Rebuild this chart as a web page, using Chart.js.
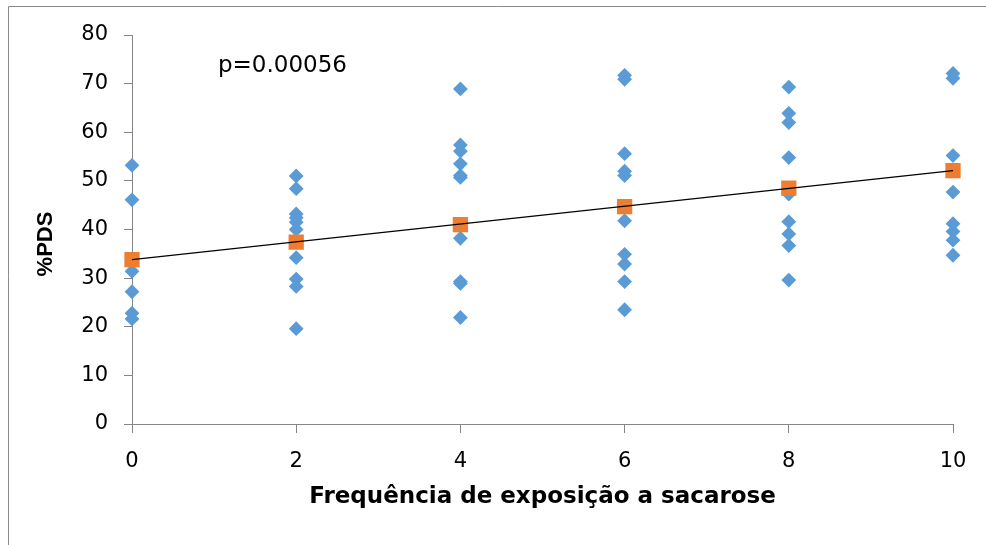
<!DOCTYPE html>
<html>
<head>
<meta charset="utf-8">
<script src="https://cdn.jsdelivr.net/npm/chart.js@4.4.1/dist/chart.umd.min.js"></script>
<style>
  html, body { margin: 0; padding: 0; background: #fff; }
  #wrap { width: 986px; height: 545px; position: relative; }
</style>
</head>
<body>
<div id="wrap"><canvas id="pdsChart"></canvas></div>
<script>
// exposure frequencies (x) and individual %PDS readings per group
const frequencies = [0, 2, 4, 6, 8, 10];
const pdsAt0 = [53.2, 46.1, 31.4, 27.2, 22.8, 21.6];
const pdsAt2 = [51.0, 48.4, 43.2, 42.4, 41.5, 40.0, 34.2, 29.8, 28.3, 19.6];
const pdsAt4 = [68.9, 57.4, 56.1, 53.5, 51.1, 50.7, 38.2, 29.3, 28.9, 21.9];
const pdsAt6 = [71.7, 70.9, 55.6, 52.0, 51.1, 41.8, 34.9, 32.9, 29.3, 23.5];
const pdsAt8 = [69.3, 63.9, 62.0, 54.8, 47.3, 41.6, 39.1, 36.7, 29.6];
const pdsAt10 = [72.1, 71.1, 55.2, 47.7, 41.2, 39.6, 37.8, 34.7];
const groupMeans = [33.8, 37.4, 41.0, 44.7, 48.5, 52.1];
const trendX = [0, 10];
const trendY = [33.8, 52.1];
const yTicks = [0, 10, 20, 30, 40, 50, 60, 70, 80];
const pLabel = "p=0.00056";
const yTitle = "%PDS";

const groups = [pdsAt0, pdsAt2, pdsAt4, pdsAt6, pdsAt8, pdsAt10];
const rawPoints = [];
groups.forEach((vals, i) => {
  vals.forEach((v) => rawPoints.push({ x: frequencies[i], y: v }));
});
const meanPoints = frequencies.map((f, i) => ({ x: f, y: groupMeans[i] }));
const trendPoints = trendX.map((f, i) => ({ x: f, y: trendY[i] }));

const axisGray = "#868686";

const framePlugin = {
  id: "frame",
  beforeDraw(chart) {
    const ctx = chart.ctx;
    ctx.save();
    ctx.fillStyle = "#fff";
    ctx.fillRect(0, 0, chart.width, chart.height);
    ctx.strokeStyle = "#8a8a8a";
    ctx.lineWidth = 1;
    ctx.beginPath();
    ctx.moveTo(8.5, chart.height);
    ctx.lineTo(8.5, 6.5);
    ctx.lineTo(chart.width, 6.5);
    ctx.stroke();
    ctx.restore();
  },
  afterDraw(chart) {
    const ctx = chart.ctx;
    ctx.save();
    ctx.fillStyle = "#000";
    ctx.font = "23px 'DejaVu Sans'";
    ctx.textBaseline = "alphabetic";
    ctx.textAlign = "left";
    ctx.fillText(pLabel, 218, 71.5);
    // y axis title, sits a little below the middle of the axis in the original
    ctx.translate(46, 244);
    ctx.rotate(-Math.PI / 2);
    ctx.font = "bold 22px 'Liberation Sans'";
    ctx.textAlign = "center";
    ctx.textBaseline = "middle";
    ctx.fillText(yTitle, 0, 0);
    ctx.restore();
  },
};

const ctx = document.getElementById("pdsChart").getContext("2d");
const pdsChart = new Chart(ctx, {
  type: "scatter",
  data: {
    datasets: [
      {
        label: "trend",
        type: "line",
        data: trendPoints,
        borderColor: "#000",
        borderWidth: 1.2,
        pointRadius: 0,
        fill: false,
        order: 0,
        clip: false,
      },
      {
        label: "mean",
        data: meanPoints,
        pointStyle: "rect",
        pointRadius: 10.8,
        pointHoverRadius: 10.8,
        backgroundColor: "#ED7D31",
        borderColor: "#ED7D31",
        borderWidth: 0,
        order: 1,
        clip: false,
      },
      {
        label: "%PDS",
        data: rawPoints,
        pointStyle: "rectRot",
        pointRadius: 7.4,
        pointHoverRadius: 7.4,
        backgroundColor: "#5B9BD5",
        borderColor: "#5B9BD5",
        borderWidth: 0,
        order: 2,
        clip: false,
      },
    ],
  },
  options: {
    responsive: true,
    maintainAspectRatio: false,
    animation: false,
    layout: {
      padding: { top: 35, right: 33, left: 0, bottom: 0 },
    },
    scales: {
      x: {
        type: "linear",
        min: 0,
        max: 10,
        afterFit(scale) {
          scale.height = 121;
        },
        ticks: {
          stepSize: 2,
          color: "#000",
          padding: 16,
          font: { family: "'DejaVu Sans'", size: 21 },
        },
        grid: {
          display: true,
          drawOnChartArea: false,
          drawTicks: true,
          tickLength: 9,
          color: axisGray,
        },
        border: { display: true, color: axisGray, width: 1 },
        title: {
          display: true,
          text: "Frequência de exposição a sacarose",
          color: "#000",
          font: { family: "'DejaVu Sans'", size: 23, weight: "bold" },
          padding: { top: 0, bottom: 34 },
        },
      },
      y: {
        min: 0,
        max: 80,
        afterFit(scale) {
          scale.width = 132;
        },
        afterBuildTicks(scale) {
          scale.ticks = yTicks.map((v) => ({ value: v }));
        },
        ticks: {
          color: "#000",
          padding: 16,
          font: { family: "'DejaVu Sans'", size: 21 },
        },
        grid: {
          display: true,
          drawOnChartArea: false,
          drawTicks: true,
          tickLength: 8,
          color: axisGray,
        },
        border: { display: true, color: axisGray, width: 1 },
      },
    },
    plugins: {
      legend: { display: false },
      tooltip: { enabled: false },
    },
  },
  plugins: [framePlugin],
});
</script>
</body>
</html>
